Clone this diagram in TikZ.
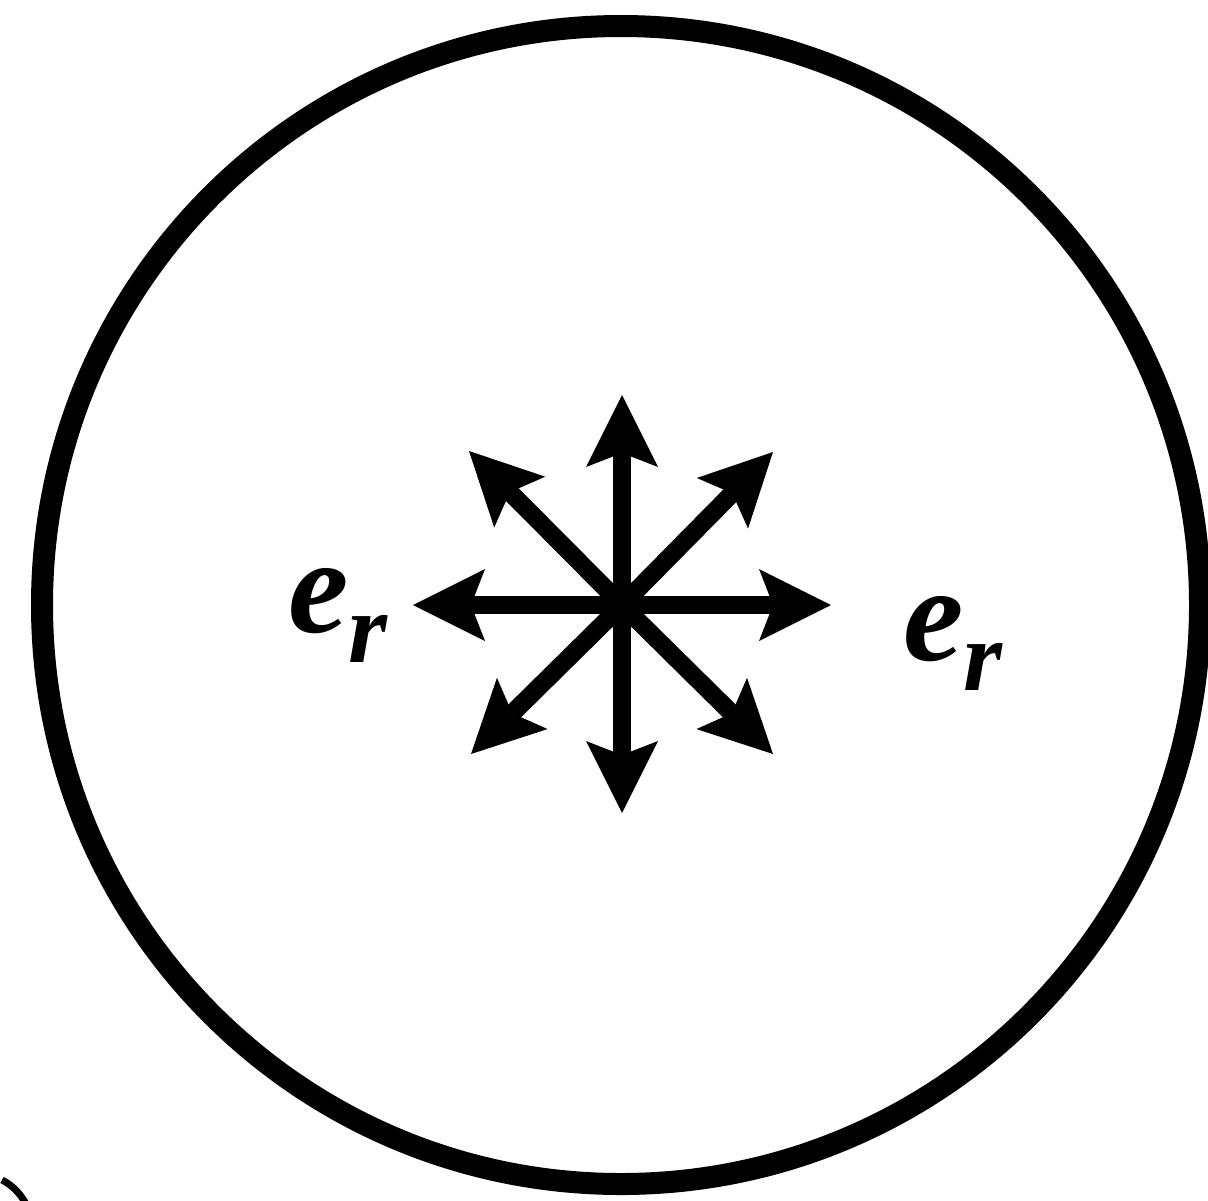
\documentclass[tikz,border=0pt]{standalone}
\usepackage{fontspec}
\setmainfont{Liberation Serif}
\usetikzlibrary{arrows.meta}
\tikzset{
  vec/.style={line width=9pt,-{Stealth[length=36pt,width=36pt,inset=7pt,line width=0pt]}},
  rim/.style={line width=11pt},
  lbl/.style={inner sep=0pt,anchor=base west},
}
\newcommand{\erlabel}{{\fontsize{68}{68}\selectfont\bfseries\itshape e}{\fontsize{50}{50}\selectfont\bfseries\itshape\raisebox{-15pt}{r}}}
\begin{document}
\begin{tikzpicture}[x=0.5pt,y=-0.5pt]
\useasboundingbox (0,0) rectangle (1208,1200);
\coordinate (c) at (622,605);
\coordinate (o) at (621,605);
\draw[rim] (o) circle[radius=289.5pt];
\coordinate (tE) at (831,605);
\coordinate (tW) at (413,605);
\coordinate (tN) at (622,395);
\coordinate (tS) at (622,813);
\coordinate (tNE) at (773,452);
\coordinate (tNW) at (469,451);
\coordinate (tSE) at (773,754);
\coordinate (tSW) at (471,754);
\foreach \t in {tE,tW,tN,tS,tNE,tNW,tSE,tSW}{\draw[vec] (c) -- (\t);}
\node[lbl] (el) at (288,632) {\erlabel};
\node[lbl] (er) at (903,660) {\erlabel};
\coordinate (fa) at (2,1180);
\coordinate (fb) at (26,1204);
\draw[line width=3.5pt] (fa) .. controls (12,1185) and (20,1193) .. (fb);
\end{tikzpicture}
\end{document}
